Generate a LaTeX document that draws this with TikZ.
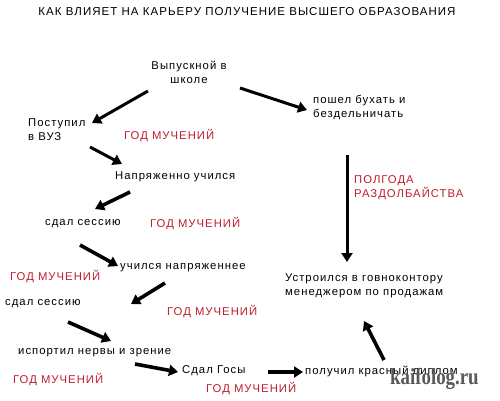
\documentclass[tikz,border=0pt]{standalone}
\usepackage{fontspec}
\setmainfont{Liberation Sans}[LetterSpace=9]
\newfontfamily\wmfont{Liberation Serif}
\usetikzlibrary{arrows.meta}
\definecolor{redtxt}{HTML}{BE1E2D}
\tikzset{
  txt/.style={font=\fontsize{11.3}{14}\selectfont, align=left, inner sep=0pt},
  redlbl/.style={font=\fontsize{11.3}{14}\selectfont, text=redtxt, inner sep=0pt, align=left},
  bigarrow/.style={line width=3.6pt, -{Triangle[length=9pt,width=11pt]}},
}
\begin{document}
\begin{tikzpicture}[x=1pt,y=-1pt]
\useasboundingbox (0,0) rectangle (500,400);
\fill[white] (0,0) rectangle (500,400);
\node[font=\fontsize{11.5}{13}\selectfont, inner sep=0pt] (title) at (247,12) {КАК ВЛИЯЕТ НА КАРЬЕРУ ПОЛУЧЕНИЕ ВЫСШЕГО ОБРАЗОВАНИЯ};

\node[txt, align=center] (vyp) at (189,72) {Выпускной в\\школе};
\node[txt, anchor=west] (post) at (28,130) {Поступил\\в ВУЗ};
\node[redlbl, anchor=west] (g1) at (124,136) {ГОД МУЧЕНИЙ};
\node[txt, anchor=west] (buh) at (313,107) {пошел бухать и\\бездельничать};
\node[txt, anchor=west] (napr) at (115,177) {Напряженно учился};
\node[redlbl, anchor=west] (pol) at (354,188) {ПОЛГОДА\\РАЗДОЛБАЙСТВА};
\node[txt, anchor=west] (ses1) at (45,224) {сдал сессию};
\node[redlbl, anchor=west] (g2) at (150,224) {ГОД МУЧЕНИЙ};
\node[txt, anchor=west] (uch) at (120,268) {учился напряженнее};
\node[redlbl, anchor=west] (g3) at (10,277) {ГОД МУЧЕНИЙ};
\node[txt, anchor=west] (ustr) at (285,286) {Устроился в говноконтору\\менеджером по продажам};
\node[txt, anchor=west] (ses2) at (5,304) {сдал сессию};
\node[redlbl, anchor=west] (g4) at (167,312) {ГОД МУЧЕНИЙ};
\node[txt, anchor=west] (isp) at (18,353) {испортил нервы и зрение};
\node[txt, anchor=west] (gos) at (182,371) {Сдал Госы};
\node[redlbl, anchor=west] (g5) at (13,380) {ГОД МУЧЕНИЙ};
\node[redlbl, anchor=west] (g6) at (206,389) {ГОД МУЧЕНИЙ};
\node[txt, anchor=west] (dipl) at (305,371) {получил красный диплом};
\node[font=\wmfont\bfseries\fontsize{23}{23}\selectfont, text=black!65, inner sep=0pt, xscale=0.82, anchor=west] (wm) at (390,379) {kaifolog.ru};

\coordinate (a1s) at (148,91);  \coordinate (a1e) at (92,123);
\coordinate (a2s) at (240,88);  \coordinate (a2e) at (307,110);
\coordinate (a3s) at (90,147);  \coordinate (a3e) at (122,164);
\coordinate (a4s) at (347,155); \coordinate (a4e) at (347,262);
\coordinate (a5s) at (130,192); \coordinate (a5e) at (95,209);
\coordinate (a6s) at (80,245);  \coordinate (a6e) at (118,266);
\coordinate (a7s) at (165,283); \coordinate (a7e) at (131,304);
\coordinate (a8s) at (68,322);  \coordinate (a8e) at (111,341);
\coordinate (a9s) at (135,364); \coordinate (a9e) at (178,372);
\coordinate (a10s) at (268,372); \coordinate (a10e) at (303,372);
\coordinate (a11s) at (384,360); \coordinate (a11e) at (364,321);

\draw[bigarrow, line width=3pt] (a1s) -- (a1e);
\draw[bigarrow, line width=3pt] (a2s) -- (a2e);
\draw[bigarrow, line width=3pt] (a3s) -- (a3e);
\draw[bigarrow, line width=3pt] (a4s) -- (a4e);
\draw[bigarrow] (a5s) -- (a5e);
\draw[bigarrow] (a6s) -- (a6e);
\draw[bigarrow] (a7s) -- (a7e);
\draw[bigarrow] (a8s) -- (a8e);
\draw[bigarrow] (a9s) -- (a9e);
\draw[bigarrow] (a10s) -- (a10e);
\draw[bigarrow] (a11s) -- (a11e);
\end{tikzpicture}
\end{document}
